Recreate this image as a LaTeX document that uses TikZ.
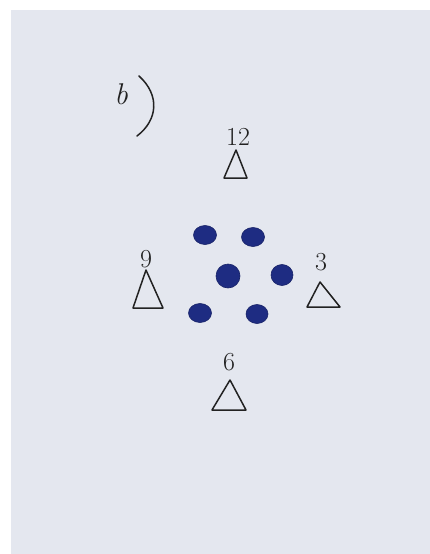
\documentclass[tikz,border=0pt]{standalone}
\usetikzlibrary{shapes.geometric}
\begin{document}
\begin{tikzpicture}[x=1pt,y=-1pt,
  dot/.style={ellipse,fill=dotc,draw=dotc!80!black,line width=0.6pt,minimum width=23pt,minimum height=19pt,inner sep=0pt},
  numlbl/.style={font=\fontsize{26}{26}\selectfont,text=inkc,inner sep=0pt},
  tri/.style={draw=inkc,line width=1.5pt,line join=round}]
\definecolor{paperc}{HTML}{E4E7EF}
\definecolor{dotc}{HTML}{1E2C82}
\definecolor{inkc}{HTML}{222222}
\useasboundingbox (0,0) rectangle (430,554);
\fill[white] (0,0) rectangle (430,554);
\fill[paperc] (11,10) rectangle (430,554);
% label b)
\node[numlbl,font=\fontsize{30}{30}\selectfont\itshape] (lb) at (121,94) {b};
\draw[inkc,line width=1.5pt,line cap=round] (139,76) .. controls (160,95) and (158,120) .. (137,136);
% numbers
\node[numlbl] (n12) at (238,137) {12};
\node[numlbl] (n9) at (146,259) {9};
\node[numlbl] (n3) at (321,262) {3};
\node[numlbl] (n6) at (229,362) {6};
% triangles
\coordinate (t12) at (236,150);
\draw[tri] (t12) -- (247,178) -- (224,178) -- cycle;
\coordinate (t9) at (146,270);
\draw[tri] (t9) -- (163,308) -- (133,308) -- cycle;
\coordinate (t3) at (320,282);
\draw[tri] (t3) -- (340,307) -- (307,307) -- cycle;
\coordinate (t6) at (230,380);
\draw[tri] (t6) -- (246,410) -- (212,410) -- cycle;
% dots
\node[dot] (d1) at (205,235) {};
\node[dot] (d2) at (253,237) {};
\node[dot,minimum width=24pt,minimum height=24pt] (d3) at (228,276) {};
\node[dot,minimum width=22pt,minimum height=21pt] (d4) at (282,275) {};
\node[dot] (d5) at (200,313) {};
\node[dot,minimum width=22pt] (d6) at (257,314) {};
\end{tikzpicture}
\end{document}
